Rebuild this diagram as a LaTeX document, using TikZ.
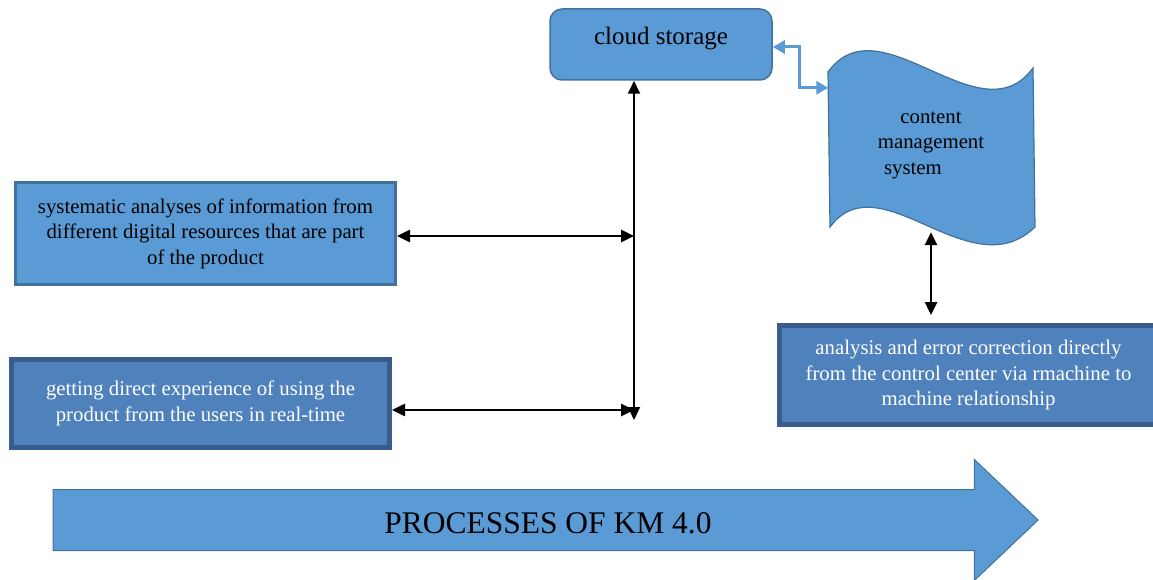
\documentclass[tikz,border=0pt]{standalone}
\usepackage{fontspec}
\setmainfont{Liberation Serif}
\usepackage{xcolor}
\usepackage{tikz}
\usetikzlibrary{arrows.meta}
\usetikzlibrary{calc}
\usetikzlibrary{positioning}
\usetikzlibrary{shapes.arrows}
\definecolor{kmblue}{HTML}{5B9BD5}
\definecolor{kmedge}{HTML}{41719C}
\definecolor{kmdark}{HTML}{4F81BD}
\definecolor{kmdarkedge}{HTML}{385D8A}
\newcommand\kmfont{\fontsize{20.8}{25.5}\selectfont}
\tikzstyle{lightbox}=[draw=kmedge,fill=kmblue,line width=3pt,align=center,font=\kmfont,inner sep=0pt]
\tikzstyle{darkbox}=[draw=kmdarkedge,fill=kmdark,line width=5pt,align=center,font=\kmfont,text=white,inner sep=0pt]
\tikzstyle{kmhead}=[>/.tip={Triangle[length=13pt,width=12pt]}]
\tikzstyle{bluehead}=[>/.tip={Triangle[length=12pt,width=13pt]}]
\tikzstyle{link} =[line width=2.5pt,kmhead,<->]
\tikzstyle{bus}  =[line width=2pt,kmhead,<->]
\tikzstyle{bluelink}=[line width=3pt,draw=kmblue,bluehead,<->]

\begin{document}
\begin{tikzpicture}[x=1pt,y=-1pt]
	\useasboundingbox (0,0) rectangle (1153,580);
	% the wavy document shape
	\draw[draw=kmedge,fill=kmblue,line width=1.2pt]
	  (828,72) .. controls (880,0) and (980,140) .. (1033,68)
	  -- (1035,227) .. controls (970,290) and (880,160) .. (830,227) -- cycle;
	\node[lightbox,rounded corners=12pt,line width=1.5pt,minimum width=222pt,minimum height=71pt,
	  font=\fontsize{25}{30}\selectfont,text height=14pt,text depth=14pt] (cloud) at (661,44.5) {cloud storage};
	\node[align=center,font=\kmfont,minimum width=205pt,minimum height=174pt] (cms) at (931,145)
	  {content\\management\\system\hspace*{36pt}};
	\node[lightbox,minimum width=380pt,minimum height=102pt] (analyses) at (205.5,233.5)
	  {systematic analyses of information from\\different digital resources that are part\\of the product};
	\node[darkbox,minimum width=378pt,minimum height=88pt] (users) at (200.5,403.5)
	  {getting direct experience of using the\\product from the users in real-time};
	\node[darkbox,minimum width=378pt,minimum height=99pt] (control) at (968.5,375)
	  {analysis and error correction directly\\from the control center via rmachine to\\machine relationship};
	\node[single arrow,draw=kmedge,fill=kmblue,line width=1pt,minimum height=985pt,minimum width=120pt,
	  single arrow head extend=30pt,single arrow tip angle=87,inner sep=0pt,text height=43pt,text depth=17pt,
	  font=\fontsize{31.5}{32}\selectfont] (km) at (529.5,520) {\hspace*{37pt}PROCESSES OF KM 4.0};
	\coordinate (line) at (634,420);
	\draw[bus] (cloud.south -| line) -- (line);
	\draw[link] ([yshift=-2.5pt]analyses.east) -- ([yshift=-2.5pt]analyses.east -| line);
	\draw[link] ([yshift=-6.5pt]users.east) -- ([yshift=-6.5pt]users.east -| line);
	\draw[link] (cms.south) -- ([yshift=8pt]control.north -| cms.south);
	\draw[bluelink] ([yshift=-2.5pt]cloud.east) -| ++(27,0) |- ([yshift=-30pt]cms.north west);
\end{tikzpicture}
\end{document}
